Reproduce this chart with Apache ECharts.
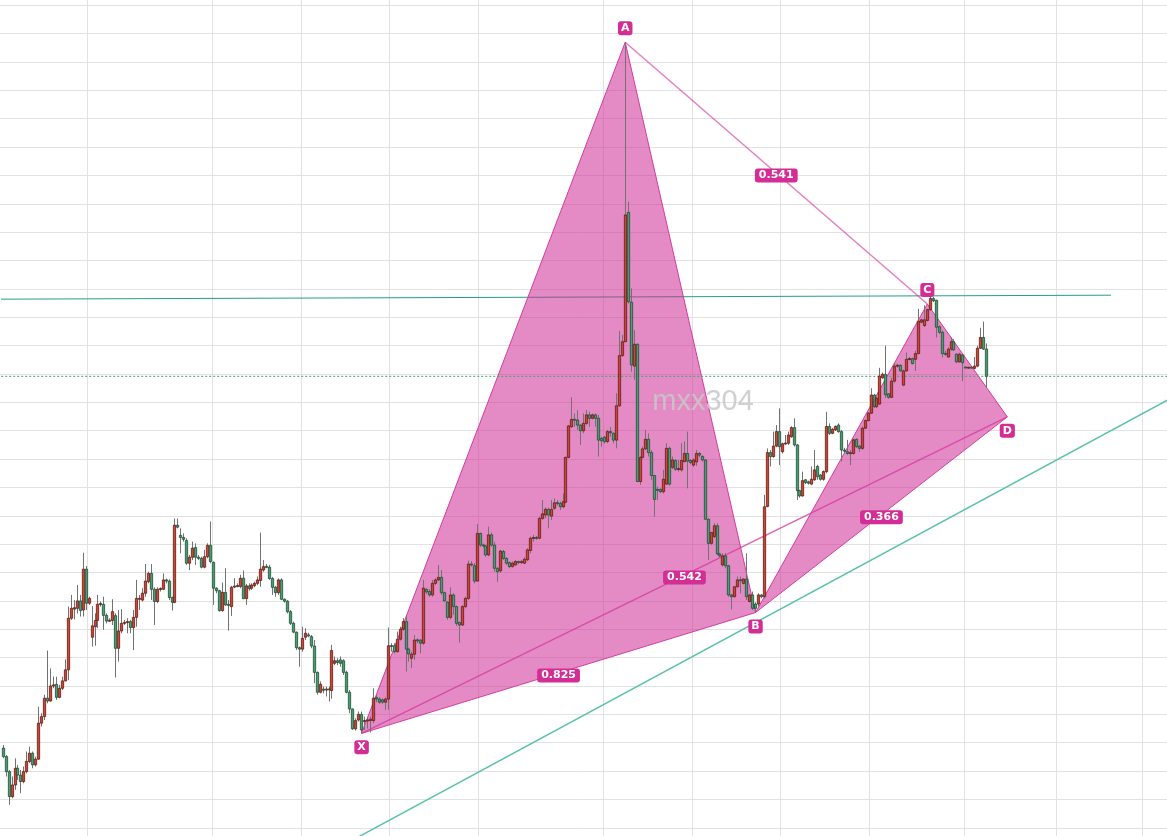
<!DOCTYPE html>
<html>
<head>
<meta charset="utf-8">
<script src="https://cdn.jsdelivr.net/npm/echarts@6/dist/echarts.min.js"></script>
<style>
  html, body { margin: 0; padding: 0; background: #ffffff; }
  #chart { width: 1167px; height: 836px; }
</style>
</head>
<body>
<div id="chart"></div>
<script>
// OHLC bars, one entry per session
const opens = [
  128.1, 125.1, 119.8, 111.0, 115.1, 121.0, 118.6, 116.3, 119.8, 123.4,
  126.3, 122.2, 124.2, 136.9, 139.2, 145.7, 144.7, 150.0, 150.6, 146.0,
  149.2, 151.8, 155.7, 173.9, 177.1, 177.4, 180.0, 176.8, 191.2, 179.2,
  167.2, 170.9, 173.1, 178.8, 178.8, 174.9, 172.9, 173.1, 174.8, 163.3,
  169.4, 172.1, 172.4, 172.7, 170.6, 174.2, 180.6, 180.3, 182.7, 186.8,
  189.7, 184.1, 179.8, 184.1, 184.1, 187.4, 187.0, 181.2, 179.5, 206.7,
  203.1, 202.4, 201.3, 193.3, 195.4, 198.8, 195.4, 195.0, 191.9, 195.6,
  199.6, 193.6, 184.5, 183.6, 176.6, 183.0, 178.8, 178.0, 185.0, 185.1,
  185.1, 188.0, 180.8, 185.3, 184.5, 185.4, 186.2, 187.2, 190.9, 192.1,
  191.9, 187.9, 184.8, 182.9, 187.4, 180.6, 179.9, 176.2, 172.1, 169.0,
  163.5, 163.0, 167.2, 168.0, 167.4, 164.1, 154.8, 147.8, 148.9, 148.6,
  148.9, 148.4, 158.0, 158.9, 159.2, 158.9, 154.8, 147.8, 141.9, 134.9,
  138.0, 140.0, 137.5, 137.8, 137.8, 137.8, 145.9, 145.4, 145.1, 144.3,
  145.4, 164.2, 164.2, 162.1, 166.5, 170.0, 172.7, 163.0, 159.8, 161.2,
  166.2, 166.2, 165.1, 184.0, 183.3, 182.1, 186.2, 187.4, 188.3, 182.9,
  179.6, 174.2, 182.1, 178.0, 172.4, 171.5, 178.0, 180.9, 193.0, 192.4,
  187.0, 203.8, 199.7, 199.4, 196.2, 203.3, 199.7, 191.5, 190.6, 197.4,
  195.0, 193.5, 192.1, 192.7, 193.9, 193.5, 193.3, 194.5, 197.8, 202.1,
  202.3, 202.1, 209.1, 210.3, 212.3, 209.9, 212.7, 214.6, 214.4, 213.2,
  214.8, 230.6, 241.4, 244.0, 243.8, 242.0, 240.0, 242.6, 245.6, 244.4,
  245.6, 244.4, 237.3, 237.7, 236.2, 239.7, 239.1, 236.7, 248.8, 266.5,
  271.4, 317.0, 285.3, 262.8, 270.5, 222.1, 230.6, 233.6, 237.0, 232.3,
  224.2, 219.3, 219.3, 218.5, 221.2, 233.8, 227.1, 229.5, 226.4, 226.2,
  229.1, 232.0, 229.5, 227.9, 229.0, 232.0, 230.9, 229.7, 208.8, 200.3,
  202.7, 206.5, 196.6, 192.7, 195.9, 192.4, 182.1, 181.5, 185.0, 187.4,
  186.2, 187.7, 179.8, 182.1, 178.9, 178.9, 182.1, 181.5, 213.3, 232.3,
  230.9, 234.6, 239.7, 232.6, 235.4, 235.6, 237.9, 241.1, 235.0, 218.9,
  217.0, 222.7, 222.0, 221.2, 222.7, 227.4, 224.4, 222.9, 225.6, 241.5,
  239.1, 240.3, 242.0, 239.7, 233.2, 232.6, 232.0, 232.0, 237.0, 234.6,
  233.8, 240.9, 243.6, 246.2, 252.6, 248.5, 249.4, 258.7, 259.9, 253.0,
  251.8, 257.5, 262.8, 263.1, 256.1, 261.1, 265.2, 265.4, 265.2, 267.2,
  278.3, 277.1, 278.9, 282.7, 286.6, 286.0, 276.7, 274.7, 267.2, 266.0,
  268.8, 271.4, 267.0, 264.3, 266.7, 262.4, 262.2, 262.3, 262.0, 262.8,
  269.1, 272.9, 268.8
];
const closes = [
  125.1, 119.8, 111.0, 115.1, 121.0, 118.6, 116.3, 119.8, 123.4, 126.3,
  122.2, 124.2, 136.9, 139.2, 145.7, 144.7, 150.0, 150.4, 146.0, 149.2,
  151.8, 155.7, 173.9, 177.4, 177.6, 180.0, 176.6, 191.2, 179.2, 180.9,
  171.2, 173.1, 178.8, 179.0, 174.9, 172.9, 173.1, 176.2, 163.3, 169.4,
  172.1, 172.4, 172.7, 170.6, 174.2, 180.9, 180.9, 182.7, 187.0, 189.7,
  184.1, 179.8, 184.1, 184.3, 187.4, 187.0, 181.2, 179.5, 206.7, 206.0,
  202.4, 201.7, 193.3, 195.4, 198.6, 195.4, 195.0, 191.9, 195.6, 199.6,
  193.9, 184.5, 183.6, 176.6, 183.0, 178.6, 178.4, 184.8, 185.1, 185.4,
  188.0, 180.8, 185.3, 184.3, 185.6, 186.2, 187.4, 191.2, 192.1, 191.9,
  187.9, 184.8, 182.9, 187.4, 180.6, 179.9, 176.2, 172.1, 169.0, 163.5,
  163.0, 166.8, 168.6, 167.7, 164.1, 154.8, 147.8, 150.6, 148.5, 148.9,
  148.7, 162.5, 158.9, 158.3, 158.0, 154.8, 147.8, 141.9, 134.9, 137.8,
  140.0, 134.5, 137.8, 137.9, 138.3, 145.7, 145.4, 144.3, 144.3, 145.4,
  164.2, 164.0, 162.1, 166.5, 170.0, 172.7, 163.0, 161.3, 161.2, 166.2,
  166.0, 165.1, 184.5, 183.2, 182.1, 186.2, 187.4, 188.3, 182.9, 180.0,
  174.2, 182.1, 178.0, 172.1, 171.5, 178.0, 180.9, 193.0, 192.7, 187.0,
  203.8, 199.7, 199.4, 196.2, 203.3, 199.7, 191.5, 190.3, 197.6, 195.0,
  193.3, 192.1, 193.3, 193.9, 193.5, 193.9, 194.7, 198.0, 202.1, 202.3,
  202.1, 209.1, 210.7, 212.3, 210.3, 212.3, 214.6, 214.4, 213.2, 215.0,
  230.6, 241.7, 244.0, 243.8, 242.0, 240.0, 242.6, 245.6, 244.4, 245.6,
  244.4, 236.7, 236.5, 236.2, 239.7, 239.3, 236.7, 248.8, 266.5, 271.4,
  316.1, 285.5, 263.2, 270.5, 222.1, 230.6, 233.6, 237.0, 232.3, 224.2,
  215.8, 219.0, 218.5, 222.9, 233.8, 221.2, 229.7, 226.4, 226.6, 229.5,
  232.0, 229.3, 228.8, 229.7, 232.0, 231.4, 229.7, 208.8, 200.3, 204.1,
  206.5, 196.6, 195.9, 195.9, 192.4, 182.1, 181.5, 185.0, 187.4, 187.2,
  187.7, 181.5, 182.1, 177.4, 177.4, 182.1, 181.5, 213.2, 232.3, 230.9,
  234.6, 239.7, 234.4, 235.4, 235.6, 238.5, 241.1, 235.0, 218.9, 217.0,
  222.4, 221.7, 221.5, 222.9, 226.2, 223.8, 222.9, 225.6, 241.5, 239.1,
  240.5, 241.5, 239.7, 233.2, 232.8, 232.0, 232.2, 236.8, 234.4, 233.8,
  240.9, 243.6, 246.2, 252.6, 248.5, 251.5, 259.3, 259.9, 252.7, 251.8,
  257.5, 262.8, 263.1, 261.1, 261.1, 265.2, 265.4, 263.7, 267.2, 278.6,
  279.1, 279.1, 282.7, 286.6, 285.8, 276.5, 274.7, 267.2, 267.0, 268.8,
  271.4, 268.5, 264.3, 267.0, 264.0, 262.2, 262.3, 262.2, 262.8, 269.1,
  272.9, 268.8, 259.2
];
const highs = [
  129.2, 125.7, 120.4, 118.1, 124.5, 122.2, 120.4, 121.6, 126.9, 128.6,
  126.9, 125.1, 142.7, 140.4, 146.9, 162.5, 156.2, 153.3, 153.3, 150.4,
  153.3, 159.4, 178.0, 182.1, 180.3, 185.6, 182.1, 197.0, 192.3, 181.5,
  178.2, 175.6, 182.1, 179.8, 181.5, 175.6, 173.9, 180.6, 175.6, 176.8,
  177.1, 173.3, 173.9, 173.3, 176.8, 187.4, 182.1, 184.5, 193.0, 190.3,
  193.0, 184.8, 184.8, 184.8, 189.7, 187.9, 187.6, 181.5, 209.1, 209.1,
  205.6, 203.8, 202.1, 196.2, 200.9, 200.3, 196.2, 195.6, 198.0, 200.3,
  208.0, 193.9, 184.8, 183.9, 186.5, 191.5, 180.3, 185.3, 188.0, 186.2,
  189.2, 190.7, 186.0, 186.2, 186.2, 186.8, 188.6, 204.1, 194.4, 193.0,
  192.7, 188.4, 185.3, 188.0, 188.0, 180.9, 180.3, 176.8, 172.7, 169.2,
  163.9, 170.9, 170.4, 168.8, 168.0, 166.2, 155.1, 151.6, 149.8, 149.8,
  149.8, 164.5, 160.4, 159.8, 160.4, 159.4, 155.4, 148.6, 142.1, 138.6,
  141.0, 141.0, 139.2, 139.2, 139.2, 149.2, 146.9, 146.0, 145.6, 146.0,
  170.6, 165.1, 165.1, 169.2, 170.9, 173.9, 175.1, 163.5, 162.1, 168.0,
  166.8, 166.5, 187.4, 184.6, 184.1, 187.4, 188.0, 192.7, 190.9, 183.3,
  179.8, 184.8, 182.7, 178.4, 172.7, 178.6, 181.5, 194.2, 194.0, 193.3,
  207.1, 204.1, 200.3, 199.8, 206.2, 204.1, 200.9, 191.9, 198.0, 198.0,
  195.4, 193.9, 193.9, 194.4, 194.2, 194.4, 195.4, 198.6, 202.7, 203.3,
  202.9, 209.7, 215.6, 213.0, 212.9, 215.6, 216.2, 215.6, 215.0, 217.9,
  230.9, 242.0, 251.8, 246.1, 247.3, 242.3, 246.1, 247.3, 246.7, 246.1,
  246.1, 245.6, 237.9, 238.2, 240.3, 241.4, 239.4, 253.2, 275.2, 273.8,
  377.0, 320.8, 290.2, 275.5, 270.8, 231.0, 234.4, 240.3, 239.1, 233.2,
  224.5, 220.3, 219.7, 226.2, 235.6, 234.4, 230.9, 230.0, 229.7, 235.6,
  236.2, 239.7, 230.0, 230.3, 233.2, 232.5, 231.4, 230.0, 209.1, 204.4,
  207.4, 207.4, 197.0, 196.8, 196.8, 192.7, 182.4, 185.3, 188.6, 188.6,
  188.0, 196.8, 182.4, 183.3, 179.5, 182.7, 182.4, 217.4, 233.8, 233.2,
  239.7, 242.0, 247.9, 235.8, 238.5, 239.7, 241.6, 244.4, 235.3, 219.2,
  225.6, 223.0, 222.4, 227.4, 233.2, 228.0, 224.7, 226.0, 246.7, 242.6,
  241.0, 241.9, 242.6, 240.3, 234.0, 236.8, 233.2, 237.2, 237.3, 234.9,
  241.5, 244.0, 246.6, 255.0, 253.0, 252.0, 262.2, 260.5, 270.0, 253.3,
  258.7, 264.0, 263.6, 263.4, 261.6, 267.6, 266.0, 265.8, 268.2, 283.0,
  279.5, 284.2, 283.0, 287.4, 287.2, 286.2, 277.1, 275.3, 268.2, 269.4,
  272.9, 272.3, 267.3, 267.5, 267.0, 262.6, 262.5, 262.6, 266.0, 270.0,
  276.3, 278.5, 270.8
];
const lows = [
  124.5, 118.1, 108.1, 110.4, 113.4, 116.9, 112.2, 115.7, 119.2, 122.8,
  121.0, 121.6, 124.0, 135.7, 138.0, 143.9, 144.5, 149.2, 145.1, 145.7,
  148.6, 151.6, 152.1, 173.3, 173.5, 175.6, 174.5, 174.5, 176.8, 178.6,
  163.9, 164.2, 170.4, 178.0, 169.8, 172.1, 172.7, 171.5, 153.0, 158.6,
  168.6, 171.5, 168.6, 168.6, 162.7, 170.9, 176.8, 179.8, 181.5, 186.2,
  180.3, 171.5, 179.2, 183.3, 183.9, 186.2, 180.3, 176.6, 179.2, 205.6,
  196.8, 200.9, 192.7, 190.9, 194.4, 192.7, 194.4, 191.5, 191.5, 195.0,
  193.3, 178.6, 182.7, 176.2, 176.2, 178.2, 169.5, 174.7, 184.5, 184.8,
  184.5, 180.6, 178.6, 183.6, 183.9, 184.8, 185.6, 185.0, 190.3, 191.5,
  187.4, 182.1, 181.5, 182.1, 180.3, 179.4, 175.6, 171.5, 168.6, 162.7,
  156.8, 162.1, 166.2, 167.2, 163.3, 151.0, 146.9, 147.4, 147.4, 146.3,
  144.5, 145.5, 157.4, 157.4, 156.8, 153.9, 147.4, 140.4, 134.5, 134.3,
  137.5, 133.3, 134.5, 135.0, 133.6, 136.9, 144.3, 143.7, 143.7, 141.6,
  141.6, 162.1, 161.5, 161.8, 166.0, 169.5, 155.1, 158.6, 156.3, 159.2,
  165.1, 161.5, 164.5, 182.5, 181.5, 181.5, 185.6, 187.0, 182.1, 179.8,
  173.3, 173.5, 175.1, 171.2, 165.3, 171.2, 177.4, 180.3, 192.1, 186.2,
  186.8, 199.1, 198.8, 195.6, 195.8, 199.1, 190.3, 186.8, 189.9, 194.4,
  192.7, 191.5, 191.8, 192.4, 193.0, 193.0, 193.0, 194.0, 196.8, 200.9,
  201.5, 201.8, 208.6, 209.1, 205.6, 208.5, 212.1, 213.6, 212.1, 212.7,
  214.4, 230.3, 241.0, 241.4, 240.3, 235.0, 239.1, 242.0, 241.4, 244.0,
  241.4, 230.9, 234.4, 235.4, 235.6, 237.9, 235.6, 233.8, 248.5, 266.1,
  271.2, 284.9, 260.8, 257.9, 222.0, 220.9, 230.3, 233.3, 230.9, 222.6,
  209.7, 215.6, 218.0, 217.9, 220.9, 220.6, 226.5, 225.9, 225.6, 225.6,
  228.9, 219.7, 228.2, 227.3, 227.6, 230.6, 229.1, 208.6, 194.4, 199.7,
  202.1, 196.2, 195.4, 192.1, 191.5, 181.5, 177.0, 181.2, 184.7, 182.7,
  185.8, 180.3, 179.5, 176.8, 175.9, 178.0, 180.9, 180.9, 213.0, 227.4,
  230.5, 234.2, 227.9, 232.0, 235.0, 235.0, 237.5, 234.4, 215.6, 216.4,
  216.8, 221.2, 221.0, 220.8, 222.4, 222.7, 222.4, 222.4, 225.0, 238.5,
  238.8, 240.0, 239.3, 229.1, 232.0, 231.5, 227.9, 231.5, 234.0, 232.6,
  233.2, 240.6, 243.3, 245.9, 248.0, 248.0, 249.2, 258.3, 251.5, 251.3,
  251.5, 256.9, 262.3, 260.8, 255.7, 260.8, 264.8, 263.4, 261.1, 267.0,
  277.9, 276.6, 278.5, 282.3, 285.4, 272.9, 274.1, 265.8, 266.4, 265.8,
  268.2, 268.2, 263.8, 264.0, 257.5, 262.0, 261.9, 262.0, 261.7, 262.4,
  268.8, 268.5, 255.1
];

// Time slots on the x axis (the last ones are still empty)
const slotCount = 395;
const categories = Array.from({ length: slotCount }, (_, i) => 'S' + (i + 1));
// Slots where a new period begins (vertical grid lines)
const periodStarts = [29, 71, 101, 131, 161, 203, 233, 263, 293, 325, 356, 385];

// XABCD harmonic pattern pivots
const patternNames = ['X', 'A', 'B', 'C', 'D'];
const patternIdx = [121, 210, 254, 312, 339];
const patternVal = [133.3, 377.0, 175.9, 284.7, 244.9];

// Trend lines
const resistanceIdx = [-2, 374];
const resistanceVal = [286.4, 287.8];
const supportIdx = [115, 395];
const supportVal = [94.0, 251.9];

const lastClose = closes[closes.length - 1];

const GRID_LINE = '#e2e2e2';
const UP_FILL = '#cf4434', UP_EDGE = '#5e1d14';
const DOWN_FILL = '#47a072', DOWN_EDGE = '#1f4d35';
const WICK = '#727272';
const PATTERN_FILL = 'rgba(205,40,150,0.54)';
const PATTERN_EDGE = '#d33c9e';
const TAG_BG = '#d22e96';

function renderCandle(params, api) {
  const i = api.value(0);
  const o = api.value(1), c = api.value(2), l = api.value(3), h = api.value(4);
  const hi = api.coord([i, h]);
  const lo = api.coord([i, l]);
  const top = api.coord([i, Math.max(o, c)]);
  const bot = api.coord([i, Math.min(o, c)]);
  const xc = Math.round(hi[0] - 0.5) + 0.5;
  const half = api.size([1, 0])[0] * 0.39;
  let y0 = top[1], y1 = bot[1];
  if (y1 - y0 < 1) { const m = (y0 + y1) / 2; y0 = m - 0.5; y1 = m + 0.5; }
  const up = c >= o;
  return {
    type: 'group',
    children: [
      { type: 'line', shape: { x1: xc, y1: hi[1], x2: xc, y2: lo[1] },
        style: { stroke: WICK, lineWidth: 1 } },
      { type: 'rect', shape: { x: xc - half, y: y0, width: half * 2, height: y1 - y0 },
        style: { fill: up ? UP_FILL : DOWN_FILL, stroke: up ? UP_EDGE : DOWN_EDGE, lineWidth: 0.8 } }
    ]
  };
}

function patternPoints(api) {
  return patternIdx.map((x, k) => api.coord([x, patternVal[k]]));
}

function renderPattern(params, api) {
  const [X, A, B, C, D] = patternPoints(api);
  return {
    type: 'group',
    children: [
      { type: 'polygon', shape: { points: [X, A, B] },
        style: { fill: PATTERN_FILL, stroke: PATTERN_EDGE, lineWidth: 1 } },
      { type: 'polygon', shape: { points: [B, C, D] },
        style: { fill: PATTERN_FILL, stroke: PATTERN_EDGE, lineWidth: 1 } },
      { type: 'line', shape: { x1: A[0], y1: A[1], x2: C[0], y2: C[1] },
        style: { stroke: 'rgba(214,60,160,0.65)', lineWidth: 1.5 } },
      { type: 'line', shape: { x1: X[0], y1: X[1], x2: D[0], y2: D[1] },
        style: { stroke: 'rgba(214,60,160,0.8)', lineWidth: 1.5 } }
    ]
  };
}

function tag(text, x, y, padX) {
  return {
    type: 'text', x: x, y: y,
    style: {
      text: text, fill: '#ffffff', fontSize: 11, fontWeight: 'bold',
      fontFamily: 'DejaVu Sans', align: 'center', verticalAlign: 'middle',
      backgroundColor: TAG_BG, padding: [2, padX, 1, padX], borderRadius: 3
    }
  };
}

function renderTags(params, api) {
  const pts = patternPoints(api);
  const [xv, av, bv, cv, dv] = patternVal;
  // Fibonacci ratios of the legs, placed at the middle of each leg
  const legs = [
    [0, 2, (av - bv) / (av - xv)],
    [1, 3, (cv - bv) / (av - bv)],
    [0, 4, (av - dv) / (av - xv)],
    [2, 4, (cv - dv) / (cv - bv)]
  ];
  const children = [];
  legs.forEach(([a, b, r]) => {
    const mx = (pts[a][0] + pts[b][0]) / 2;
    const my = (pts[a][1] + pts[b][1]) / 2;
    children.push(tag(r.toFixed(3), mx, my + 2.5, 4));
  });
  patternNames.forEach((name, k) => {
    const above = k % 2 === 1;
    children.push(tag(name, pts[k][0], pts[k][1] + (above ? -14 : 14), 3));
  });
  return { type: 'group', children: children };
}

const chart = echarts.init(document.getElementById('chart'), null, { renderer: 'canvas' });

chart.setOption({
  animation: false,
  backgroundColor: '#ffffff',
  grid: [
    { left: 1.7, top: 0, width: 1170, bottom: 0, outerBoundsMode: 'none', containLabel: false },
    { left: 0, right: 0, top: 5.3, bottom: 8.2, outerBoundsMode: 'none', containLabel: false }
  ],
  xAxis: [
    {
      type: 'category', gridIndex: 0, data: categories, boundaryGap: true,
      axisLine: { show: false }, axisTick: { show: false }, axisLabel: { show: false },
      splitLine: {
        show: true,
        interval: (index) => periodStarts.indexOf(index) >= 0,
        lineStyle: { color: GRID_LINE, width: 1 }
      }
    },
    {
      type: 'value', gridIndex: 1, min: 0, max: 1,
      axisLine: { show: false }, axisTick: { show: false }, axisLabel: { show: false },
      splitLine: { show: false }
    }
  ],
  yAxis: [
    {
      type: 'value', gridIndex: 0, min: 97.11, max: 391.89, scale: true,
      axisLine: { show: false }, axisTick: { show: false }, axisLabel: { show: false },
      splitLine: { show: false }
    },
    {
      type: 'value', gridIndex: 1, min: 100, max: 390, interval: 10,
      axisLine: { show: false }, axisTick: { show: false }, axisLabel: { show: false },
      splitLine: { show: true, lineStyle: { color: GRID_LINE, width: 1 } }
    }
  ],
  series: [
    {
      name: 'resistance', type: 'line', xAxisIndex: 0, yAxisIndex: 0, z: 1, silent: true,
      symbol: 'none',
      data: resistanceIdx.map((x, k) => [x, resistanceVal[k]]),
      lineStyle: { color: '#22a086', width: 1 }
    },
    {
      name: 'support', type: 'line', xAxisIndex: 0, yAxisIndex: 0, z: 1, silent: true,
      symbol: 'none',
      data: supportIdx.map((x, k) => [x, supportVal[k]]),
      lineStyle: { color: '#5cc2a9', width: 1.5 }
    },
    {
      name: 'pattern', type: 'custom', xAxisIndex: 0, yAxisIndex: 0, z: 2, silent: true,
      data: [[patternIdx[0], patternVal[0]]],
      renderItem: renderPattern
    },
    {
      name: 'last', type: 'line', xAxisIndex: 0, yAxisIndex: 0, z: 3, silent: true,
      symbol: 'none',
      data: [[-2, lastClose], [slotCount + 5, lastClose]],
      lineStyle: { color: '#3aa46e', width: 1, type: [2, 2] }
    },
    {
      name: 'price', type: 'custom', xAxisIndex: 0, yAxisIndex: 0, z: 4, silent: true,
      data: opens.map((o, i) => [i, o, closes[i], lows[i], highs[i]]),
      encode: { x: 0, y: [1, 2, 3, 4] },
      renderItem: renderCandle
    },
    {
      name: 'tags', type: 'custom', xAxisIndex: 0, yAxisIndex: 0, z: 6, silent: true,
      data: [[patternIdx[0], patternVal[0]]],
      renderItem: renderTags
    }
  ],
  graphic: [
    {
      type: 'text', x: 703, y: 402, z: 100, silent: true,
      style: {
        text: 'mxx304', fontSize: 29, fontFamily: 'Liberation Sans',
        fill: 'rgba(200,200,200,0.85)', align: 'center', verticalAlign: 'middle'
      }
    }
  ]
});
</script>
</body>
</html>
